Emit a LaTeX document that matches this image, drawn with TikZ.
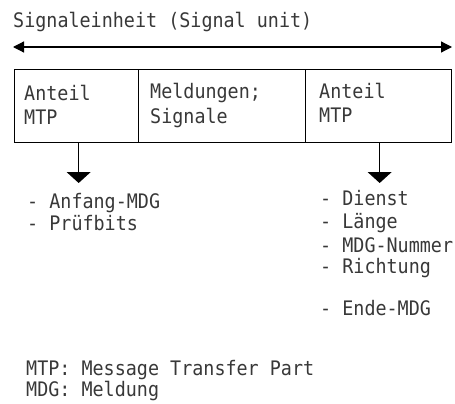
\documentclass[tikz,border=0pt]{standalone}
\usepackage{fontspec}
\newfontfamily\typewr[FakeStretch=0.92]{DejaVu Sans Mono}
\usetikzlibrary{arrows.meta}
\begin{document}
\begin{tikzpicture}[x=1pt,y=-1pt,
  txt/.style={inner sep=0pt,anchor=base west,text=black!78,
    font=\typewr\fontsize{20}{22.5}\selectfont},
  cell/.style={draw,line width=1.3pt,anchor=north west,inner sep=0pt,minimum height=73pt},
  span/.style={line width=1.2pt,{Triangle[width=11pt,length=11pt]}-{Triangle[width=11pt,length=11pt]}},
  dnarrow/.style={line width=1.2pt,-{Triangle[width=24pt,length=11pt]}}]
\useasboundingbox (0,0) rectangle (455,404);

% title and overall extent
\node[txt] (title) at (13,28) {Signaleinheit (Signal unit)};
\coordinate (sl) at (13,47);
\coordinate (sr) at (452,47);
\draw[span] (sl) -- (sr);

% the three fields of the signal unit
\node[cell,minimum width=124pt] (c1) at (14,69) {};
\node[cell,minimum width=167pt] (c2) at (138,69) {};
\node[cell,minimum width=146pt] (c3) at (305,69) {};

\node[txt] (t1a) at (24,100) {Anteil};
\node[txt] (t1b) at (24,124) {MTP};
\node[txt] (t2a) at (150,99) {Meldungen;};
\node[txt] (t2b) at (150,123) {Signale};
\node[txt] (t3a) at (319,98) {Anteil};
\node[txt] (t3b) at (319,122) {MTP};

% contents of the MTP fields
\node[txt] (l1) at (27,208) {- Anfang-MDG};
\node[txt] (l2) at (27,230) {- Prüfbits};
\node[txt] (r1) at (320,205) {- Dienst};
\node[txt] (r2) at (320,228) {- Länge};
\node[txt] (r3) at (320,252) {- MDG-Nummer};
\node[txt] (r4) at (320,273) {- Richtung};
\node[txt] (r5) at (320,315) {- Ende-MDG};

\coordinate (a1) at ([xshift=2pt]c1.south |- 0,183);
\coordinate (a3) at ([xshift=1pt]c3.south |- 0,183);
\draw[dnarrow] ([xshift=2pt]c1.south) -- (a1);
\draw[dnarrow] ([xshift=1pt]c3.south) -- (a3);

% abbreviations
\node[txt] (k1) at (26,375) {MTP: Message Transfer Part};
\node[txt] (k2) at (26,396) {MDG: Meldung};
\end{tikzpicture}
\end{document}
